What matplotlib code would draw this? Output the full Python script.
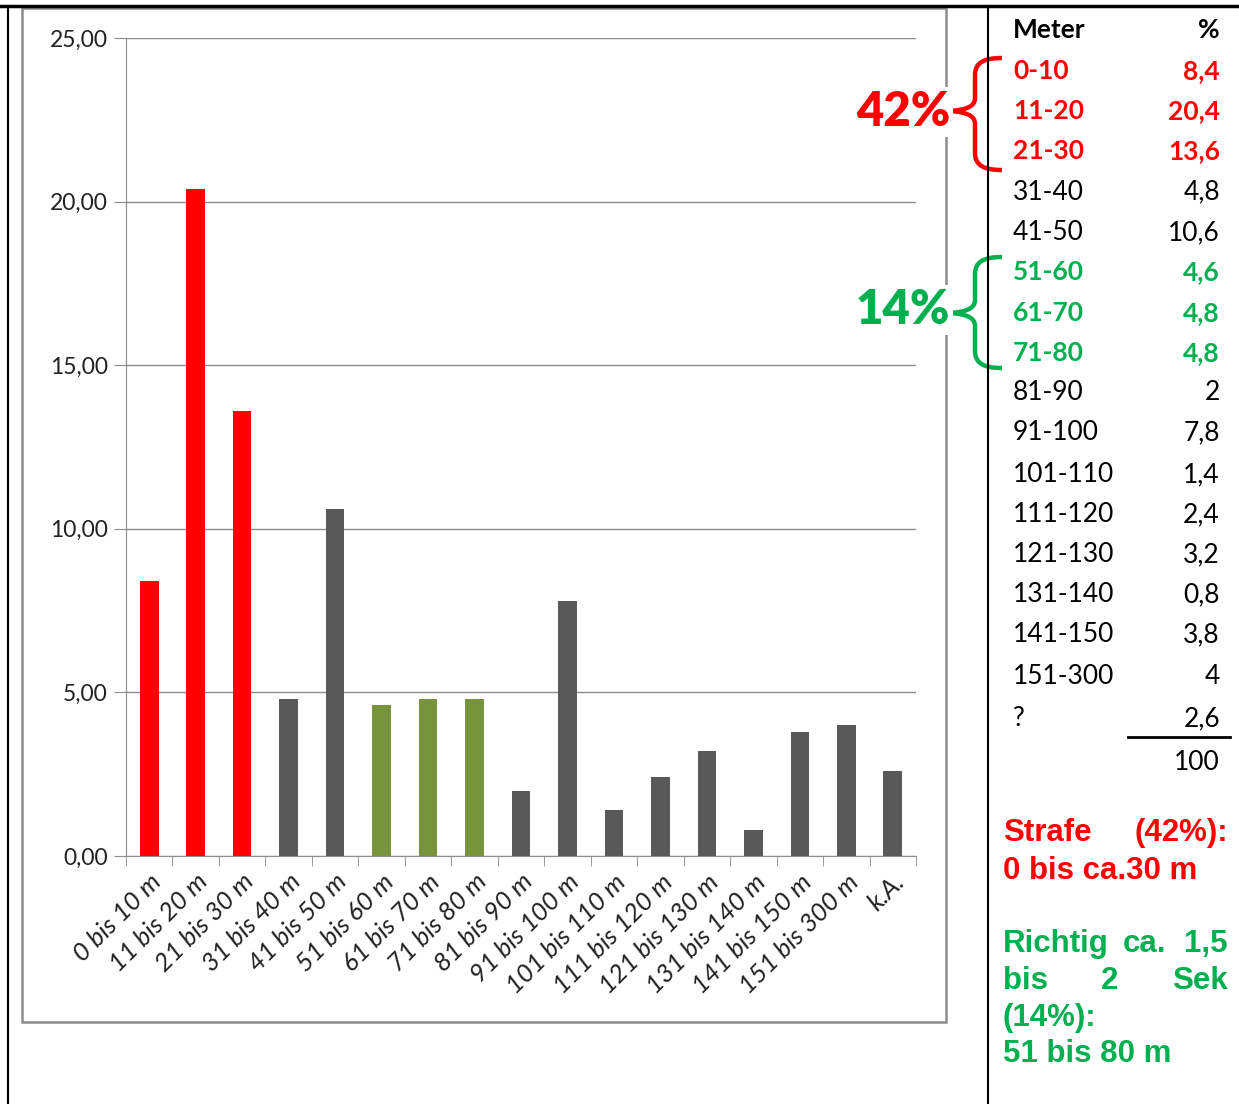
import numpy as np
import matplotlib.pyplot as plt
from matplotlib.path import Path
from matplotlib.patches import PathPatch, Rectangle
from matplotlib.lines import Line2D

# chart data
labels = ['0 bis 10 m', '11 bis 20 m', '21 bis 30 m', '31 bis 40 m', '41 bis 50 m',
          '51 bis 60 m', '61 bis 70 m', '71 bis 80 m', '81 bis 90 m', '91 bis 100 m',
          '101 bis 110 m', '111 bis 120 m', '121 bis 130 m', '131 bis 140 m',
          '141 bis 150 m', '151 bis 300 m', 'k.A.']
values = [8.4, 20.4, 13.6, 4.8, 10.6, 4.6, 4.8, 4.8, 2.0, 7.8, 1.4, 2.4, 3.2, 0.8, 3.8, 4.0, 2.6]
group = ['r', 'r', 'r', 'k', 'k', 'g', 'g', 'g', 'k', 'k', 'k', 'k', 'k', 'k', 'k', 'k', 'k']
yticks = [0, 5, 10, 15, 20, 25]

# table data
tab_meter = ['0-10', '11-20', '21-30', '31-40', '41-50', '51-60', '61-70', '71-80', '81-90',
             '91-100', '101-110', '111-120', '121-130', '131-140', '141-150', '151-300', '?']
tab_pct = ['8,4', '20,4', '13,6', '4,8', '10,6', '4,6', '4,8', '4,8', '2', '7,8',
           '1,4', '2,4', '3,2', '0,8', '3,8', '4', '2,6']
tab_total = '100'

RED = '#FF0000'
GREEN_TXT = '#00B050'
bar_col = {'r': '#FF0000', 'k': '#595959', 'g': '#77933C'}
txt_col = {'r': RED, 'k': 'black', 'g': GREEN_TXT}

W, H = 1239, 1104
fig = plt.figure(figsize=(W / 100, H / 100), dpi=100)


def fx(x):
    return x / W


def fy(y):
    return 1 - y / H


# chart frame
fig.add_artist(Rectangle((fx(22), fy(1022)), fx(946) - fx(22), fy(8) - fy(1022),
                         transform=fig.transFigure, fill=False, ec='#8c8c8c', lw=1.8))

ax = fig.add_axes([fx(126), fy(856), fx(916) - fx(126), fy(38) - fy(856)])
x = np.arange(len(values))
ax.bar(x, values, width=0.4, color=[bar_col[g] for g in group], zorder=3)
ax.set_xlim(-0.5, len(values) - 0.5)
ax.set_ylim(0, 25)
ax.set_yticks(yticks)
ax.set_yticklabels([('%.2f' % v).replace('.', ',') for v in yticks],
                   fontsize=16.5, family='Lato', color='#222222')
ax.yaxis.grid(True, color='#8c8c8c', lw=1)
ax.set_axisbelow(True)
for s in ['top', 'right']:
    ax.spines[s].set_visible(False)
ax.spines['left'].set_color('#8c8c8c')
ax.spines['bottom'].set_color('#8c8c8c')
ax.tick_params(axis='y', length=9, color='#8c8c8c', pad=4)
ax.set_xticks(x)
ax.set_xticklabels(labels, rotation=45, ha='right', rotation_mode='anchor',
                   fontsize=18.5, family='Lato', style='italic', color='#222222')
ax.tick_params(axis='x', which='major', length=0, pad=10)
ax.set_xticks(np.arange(-0.5, len(values)), minor=True)
ax.tick_params(axis='x', which='minor', length=7, color='#8c8c8c')

# table borders
fig.add_artist(Line2D([0, 1], [fy(6), fy(6)], color='black', lw=2.5))
fig.add_artist(Line2D([fx(8), fx(8)], [fy(6), 0], color='black', lw=1.5))
fig.add_artist(Line2D([fx(988), fx(988)], [fy(6), 0], color='black', lw=1.5))

# table
fig.text(fx(1013), fy(30), 'Meter', fontsize=19, family='Lato', weight='bold', va='center')
fig.text(fx(1220), fy(30), '%', fontsize=19, family='Lato', weight='bold', va='center', ha='right')
row_y = [71, 111, 151, 192, 233, 272, 313, 353, 393, 433, 475, 515, 555, 595, 635, 677, 719]
for i, (m, p) in enumerate(zip(tab_meter, tab_pct)):
    g = group[i]
    wt = 'bold' if g in 'rg' else 'normal'
    fig.text(fx(1013), fy(row_y[i]), m, fontsize=19, family='Lato', weight=wt,
             color=txt_col[g], va='center')
    fig.text(fx(1220), fy(row_y[i]), p, fontsize=19, family='Lato', weight=wt,
             color=txt_col[g], va='center', ha='right')
fig.add_artist(Line2D([fx(1128), fx(1230)], [fy(737), fy(737)], color='black', lw=2))
fig.text(fx(1220), fy(762), tab_total, fontsize=19, family='Lato', va='center', ha='right')


# braces
def brace(top, bot, tip_y, color):
    verts = [(1002, top), (985, top), (975, top + 4), (975, top + 17),
             (975, tip_y - 13),
             (975, tip_y - 4), (965, tip_y - 1), (950, tip_y),
             (965, tip_y + 1), (975, tip_y + 4), (975, tip_y + 13),
             (975, bot - 17),
             (975, bot - 4), (985, bot), (1002, bot)]
    codes = [Path.MOVETO, Path.CURVE4, Path.CURVE4, Path.CURVE4, Path.LINETO,
             Path.CURVE4, Path.CURVE4, Path.CURVE4, Path.CURVE4, Path.CURVE4, Path.CURVE4,
             Path.LINETO, Path.CURVE4, Path.CURVE4, Path.CURVE4]
    p = Path([(fx(a), fy(b)) for a, b in verts], codes)
    fig.add_artist(PathPatch(p, transform=fig.transFigure, fill=False, ec=color, lw=3.2))


brace(58, 170, 111, RED)
brace(257, 368, 313, GREEN_TXT)
fig.text(fx(950), fy(112), '42%', fontsize=34, family='Lato', weight='heavy', color=RED,
         ha='right', va='center', bbox=dict(fc='white', ec='none', pad=2))
fig.text(fx(950), fy(310), '14%', fontsize=34, family='Lato', weight='heavy', color=GREEN_TXT,
         ha='right', va='center', bbox=dict(fc='white', ec='none', pad=2))

# notes on the right
kw = dict(fontsize=22.5, family='Liberation Sans', weight='bold', va='center')
fig.text(fx(1003), fy(833), 'Strafe', color=RED, **kw)
fig.text(fx(1228), fy(833), '(42%):', color=RED, ha='right', **kw)
fig.text(fx(1003), fy(871), '0 bis ca.30 m', color=RED, **kw)
fig.text(fx(1003), fy(944), 'Richtig', color=GREEN_TXT, **kw)
fig.text(fx(1144), fy(944), 'ca.', color=GREEN_TXT, ha='center', **kw)
fig.text(fx(1228), fy(944), '1,5', color=GREEN_TXT, ha='right', **kw)
fig.text(fx(1003), fy(981), 'bis', color=GREEN_TXT, **kw)
fig.text(fx(1110), fy(981), '2', color=GREEN_TXT, ha='center', **kw)
fig.text(fx(1228), fy(981), 'Sek', color=GREEN_TXT, ha='right', **kw)
fig.text(fx(1003), fy(1018), '(14%):', color=GREEN_TXT, **kw)
fig.text(fx(1003), fy(1054), '51 bis 80 m', color=GREEN_TXT, **kw)

plt.savefig('out.png', dpi=100)
